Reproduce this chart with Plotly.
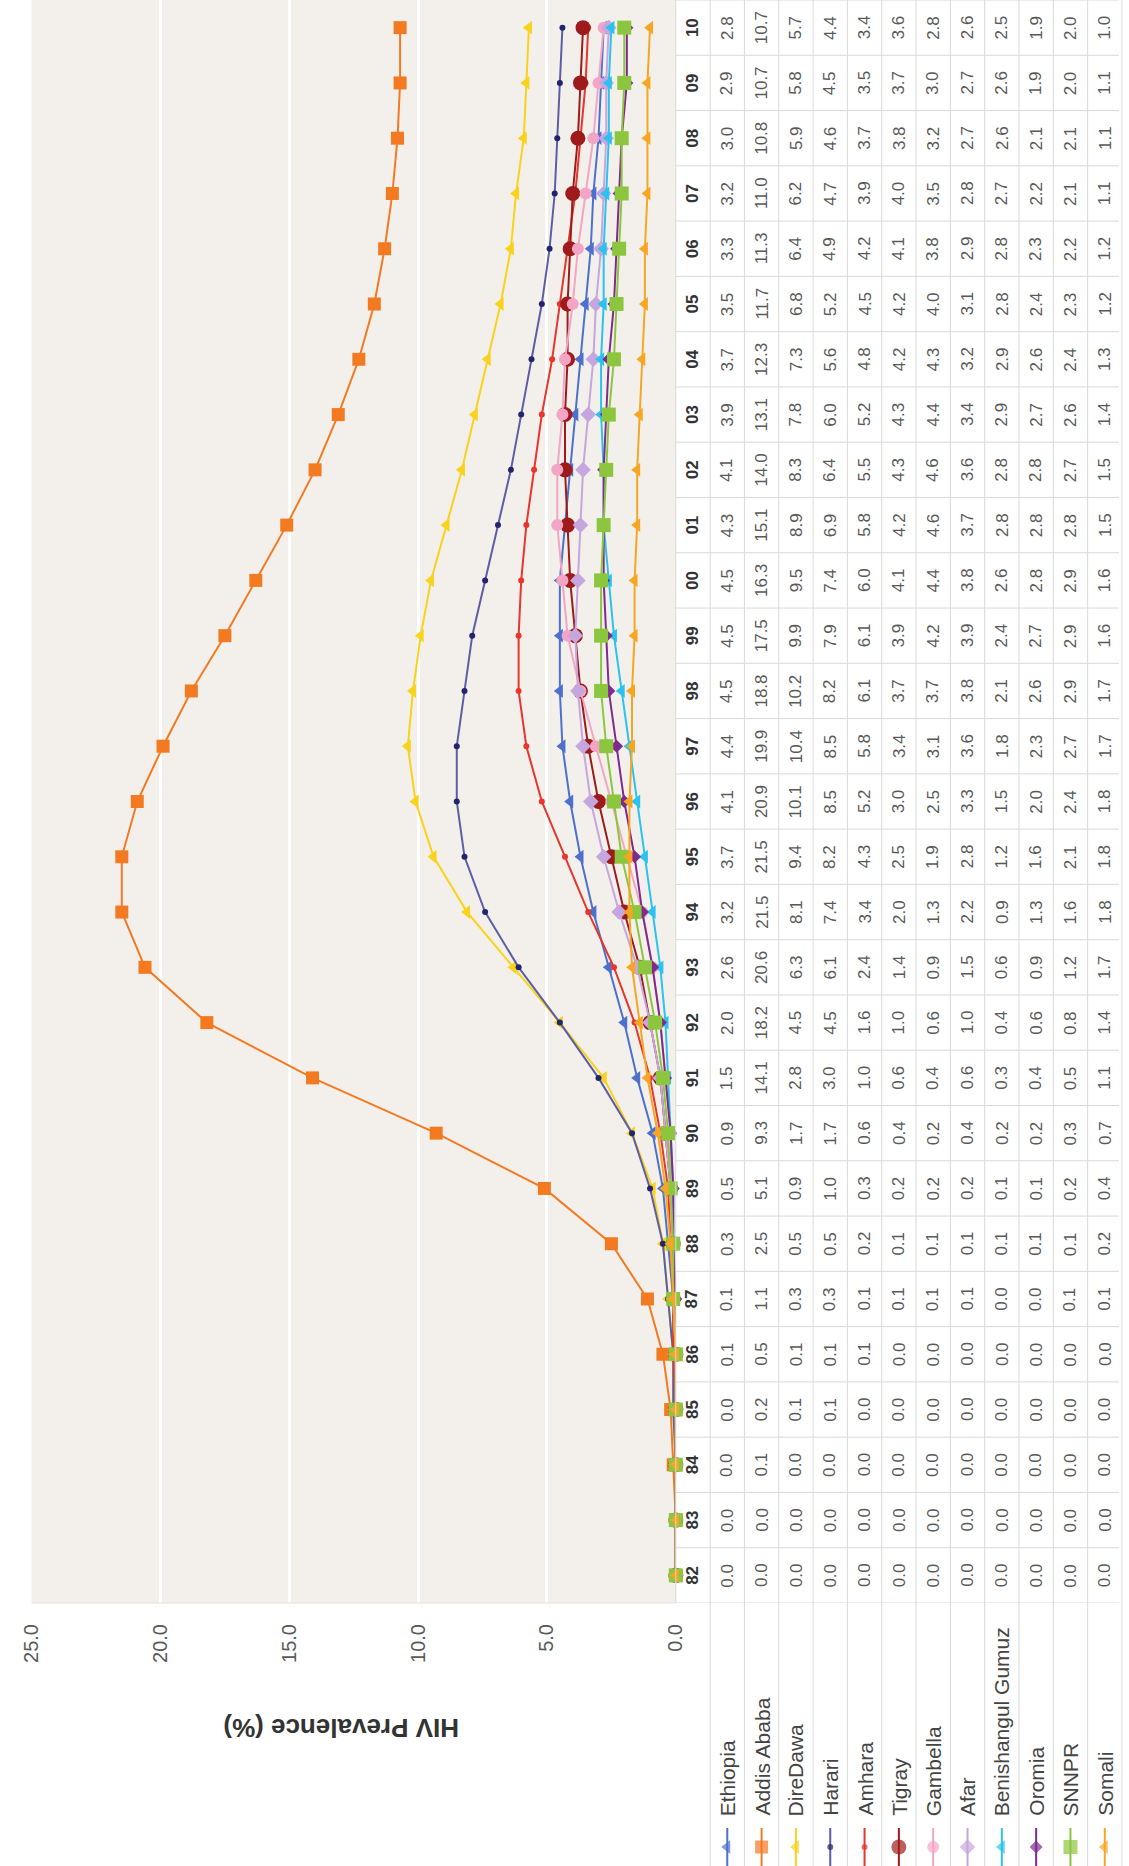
import plotly.graph_objects as go

# ---------------------------------------------------------------------------
# Data: HIV prevalence (%) by region, 1982-2010
# ---------------------------------------------------------------------------
years = ["82", "83", "84", "85", "86", "87", "88", "89", "90", "91", "92", "93",
         "94", "95", "96", "97", "98", "99", "00", "01", "02", "03", "04", "05",
         "06", "07", "08", "09", "10"]

ethiopia = [0.0, 0.0, 0.0, 0.0, 0.1, 0.1, 0.3, 0.5, 0.9, 1.5, 2.0, 2.6, 3.2, 3.7, 4.1,
            4.4, 4.5, 4.5, 4.5, 4.3, 4.1, 3.9, 3.7, 3.5, 3.3, 3.2, 3.0, 2.9, 2.8]
addis_ababa = [0.0, 0.0, 0.1, 0.2, 0.5, 1.1, 2.5, 5.1, 9.3, 14.1, 18.2, 20.6, 21.5, 21.5, 20.9,
               19.9, 18.8, 17.5, 16.3, 15.1, 14.0, 13.1, 12.3, 11.7, 11.3, 11.0, 10.8, 10.7, 10.7]
dire_dawa = [0.0, 0.0, 0.0, 0.1, 0.1, 0.3, 0.5, 0.9, 1.7, 2.8, 4.5, 6.3, 8.1, 9.4, 10.1,
             10.4, 10.2, 9.9, 9.5, 8.9, 8.3, 7.8, 7.3, 6.8, 6.4, 6.2, 5.9, 5.8, 5.7]
harari = [0.0, 0.0, 0.0, 0.1, 0.1, 0.3, 0.5, 1.0, 1.7, 3.0, 4.5, 6.1, 7.4, 8.2, 8.5,
          8.5, 8.2, 7.9, 7.4, 6.9, 6.4, 6.0, 5.6, 5.2, 4.9, 4.7, 4.6, 4.5, 4.4]
amhara = [0.0, 0.0, 0.0, 0.0, 0.1, 0.1, 0.2, 0.3, 0.6, 1.0, 1.6, 2.4, 3.4, 4.3, 5.2,
          5.8, 6.1, 6.1, 6.0, 5.8, 5.5, 5.2, 4.8, 4.5, 4.2, 3.9, 3.7, 3.5, 3.4]
tigray = [0.0, 0.0, 0.0, 0.0, 0.0, 0.1, 0.1, 0.2, 0.4, 0.6, 1.0, 1.4, 2.0, 2.5, 3.0,
          3.4, 3.7, 3.9, 4.1, 4.2, 4.3, 4.3, 4.2, 4.2, 4.1, 4.0, 3.8, 3.7, 3.6]
gambella = [0.0, 0.0, 0.0, 0.0, 0.0, 0.1, 0.1, 0.2, 0.2, 0.4, 0.6, 0.9, 1.3, 1.9, 2.5,
            3.1, 3.7, 4.2, 4.4, 4.6, 4.6, 4.4, 4.3, 4.0, 3.8, 3.5, 3.2, 3.0, 2.8]
afar = [0.0, 0.0, 0.0, 0.0, 0.0, 0.1, 0.1, 0.2, 0.4, 0.6, 1.0, 1.5, 2.2, 2.8, 3.3,
        3.6, 3.8, 3.9, 3.8, 3.7, 3.6, 3.4, 3.2, 3.1, 2.9, 2.8, 2.7, 2.7, 2.6]
benishangul_gumuz = [0.0, 0.0, 0.0, 0.0, 0.0, 0.0, 0.1, 0.1, 0.2, 0.3, 0.4, 0.6, 0.9, 1.2, 1.5,
                     1.8, 2.1, 2.4, 2.6, 2.8, 2.8, 2.9, 2.9, 2.8, 2.8, 2.7, 2.6, 2.6, 2.5]
oromia = [0.0, 0.0, 0.0, 0.0, 0.0, 0.0, 0.1, 0.1, 0.2, 0.4, 0.6, 0.9, 1.3, 1.6, 2.0,
          2.3, 2.6, 2.7, 2.8, 2.8, 2.8, 2.7, 2.6, 2.4, 2.3, 2.2, 2.1, 1.9, 1.9]
snnpr = [0.0, 0.0, 0.0, 0.0, 0.0, 0.1, 0.1, 0.2, 0.3, 0.5, 0.8, 1.2, 1.6, 2.1, 2.4,
         2.7, 2.9, 2.9, 2.9, 2.8, 2.7, 2.6, 2.4, 2.3, 2.2, 2.1, 2.1, 2.0, 2.0]
somali = [0.0, 0.0, 0.0, 0.0, 0.0, 0.1, 0.2, 0.4, 0.7, 1.1, 1.4, 1.7, 1.8, 1.8, 1.8,
          1.7, 1.7, 1.6, 1.6, 1.5, 1.5, 1.4, 1.3, 1.2, 1.2, 1.1, 1.1, 1.1, 1.0]

region_names = ["Ethiopia", "Addis Ababa", "DireDawa", "Harari", "Amhara", "Tigray",
                "Gambella", "Afar", "Benishangul Gumuz", "Oromia", "SNNPR", "Somali"]
region_values = [ethiopia, addis_ababa, dire_dawa, harari, amhara, tigray,
                 gambella, afar, benishangul_gumuz, oromia, snnpr, somali]

value_ticks = [0, 5, 10, 15, 20, 25]

# ---------------------------------------------------------------------------
# Styling (the whole chart is laid out turned a quarter turn anticlockwise)
# ---------------------------------------------------------------------------
styles = [
    dict(line="#4d70cf", marker="#4d70cf", symbol="triangle-left", size=12),
    dict(line="#f47a22", marker="#f47a22", symbol="square", size=13),
    dict(line="#f8d21c", marker="#f8d21c", symbol="triangle-left", size=12),
    dict(line="#5b5ea6", marker="#23246e", symbol="circle", size=6),
    dict(line="#e8352e", marker="#e8352e", symbol="circle", size=6),
    dict(line="#9e1b1b", marker="#9e1b1b", symbol="circle", size=15),
    dict(line="#f3a5c6", marker="#f3a5c6", symbol="circle", size=12),
    dict(line="#c6a6de", marker="#c6a6de", symbol="diamond", size=12),
    dict(line="#2bc2ef", marker="#2bc2ef", symbol="triangle-left", size=12),
    dict(line="#7e2a8e", marker="#7e2a8e", symbol="diamond", size=10),
    dict(line="#8cc63f", marker="#8cc63f", symbol="square", size=14),
    dict(line="#f6a623", marker="#f6a623", symbol="triangle-left", size=12),
]

W, H = 1129, 1866
PLOT_L, PLOT_R, PLOT_T, PLOT_B = 20, 677, 0, 1603
HEAD_X = 694            # centre of the year header column
TABLE_L = 712           # first separator of the data table
ROW_W = 35              # width of one table row (one region)
LEG_TEXT_BOTTOM = 1818
LEG_MARK_Y = 1847
LEG_LINE_TOP, LEG_LINE_BOTTOM = 1828, 1866

FONT = "Liberation Sans, Arial, sans-serif"
GRID_LINE = "#d9d9d9"


def px(x):
    return x / W


def py(y):
    return 1 - y / H


def row_centre(k):
    return TABLE_L + ROW_W * k + ROW_W / 2


fig = go.Figure()

# Data series: value on the horizontal axis, year on the vertical (category) axis
for name, vals, st in zip(region_names, region_values, styles):
    fig.add_trace(go.Scatter(
        x=vals, y=years, name=name, mode="lines+markers",
        line=dict(color=st["line"], width=2),
        marker=dict(color=st["marker"], symbol=st["symbol"], size=st["size"],
                    line=dict(width=0)),
        cliponaxis=False, showlegend=False, xaxis="x", yaxis="y",
    ))

# Legend keys under the table (overlay axes in pixel units)
for k, (name, st) in enumerate(zip(region_names, styles)):
    cx = row_centre(k)
    fig.add_trace(go.Scatter(
        x=[cx, cx, cx], y=[LEG_LINE_TOP, LEG_MARK_Y, LEG_LINE_BOTTOM],
        mode="lines+markers",
        line=dict(color=st["line"], width=2),
        marker=dict(color=st["marker"], symbol=st["symbol"],
                    size=[0, st["size"], 0], line=dict(width=0)),
        showlegend=False, hoverinfo="skip", xaxis="x2", yaxis="y2",
    ))

shapes = []
# plot background
shapes.append(dict(type="rect", xref="paper", yref="paper",
                   x0=px(PLOT_L), x1=px(PLOT_R), y0=py(PLOT_B), y1=py(PLOT_T),
                   fillcolor="#f3f0eb", line=dict(width=0), layer="below"))
# plot right / bottom edges
shapes.append(dict(type="line", xref="paper", yref="paper",
                   x0=px(PLOT_R), x1=px(PLOT_R), y0=py(PLOT_B), y1=py(PLOT_T),
                   line=dict(color=GRID_LINE, width=1)))
shapes.append(dict(type="line", xref="paper", yref="paper",
                   x0=px(PLOT_L), x1=px(PLOT_R), y0=py(PLOT_B), y1=py(PLOT_B),
                   line=dict(color="#e4e1dc", width=1)))
# table: boundaries between year cells (category index +/- 0.5)
for i in range(len(years) + 1):
    shapes.append(dict(type="line", xref="paper", yref="y",
                       x0=px(PLOT_R), x1=1, y0=i - 0.5, y1=i - 0.5,
                       line=dict(color=GRID_LINE, width=1)))
# table: boundaries between region rows (run through the legend area too)
for k in range(len(region_names) + 1):
    xx = TABLE_L + ROW_W * k
    shapes.append(dict(type="line", xref="paper", yref="paper",
                       x0=px(xx), x1=px(xx), y0=0, y1=1,
                       line=dict(color=GRID_LINE, width=1)))

annotations = []
# year header column (placed by category index on the year axis)
for i, yr in enumerate(years):
    annotations.append(dict(x=px(HEAD_X), xref="paper", y=i, yref="y",
                            text=f"<b>{yr}</b>", textangle=-90, showarrow=False,
                            font=dict(family=FONT, size=17, color="#333333"),
                            xanchor="center", yanchor="middle"))
# table values
for k, vals in enumerate(region_values):
    for i, v in enumerate(vals):
        annotations.append(dict(x=px(row_centre(k)), xref="paper", y=i, yref="y",
                                text=f"{v:.1f}", textangle=-90, showarrow=False,
                                font=dict(family=FONT, size=17, color="#595959"),
                                xanchor="center", yanchor="middle"))
# legend names
for k, name in enumerate(region_names):
    annotations.append(dict(x=px(row_centre(k)), xref="paper",
                            y=py(LEG_TEXT_BOTTOM), yref="paper",
                            text=name, textangle=-90, showarrow=False,
                            font=dict(family=FONT, size=21, color="#444444"),
                            xanchor="center", yanchor="bottom"))
# value axis title
annotations.append(dict(x=px(335), xref="paper", y=py(1728), yref="paper",
                        text="<b>HIV Prevalence (%)</b>", textangle=180, showarrow=False,
                        font=dict(family=FONT, size=26, color="#333333"),
                        xanchor="center", yanchor="middle"))

fig.update_layout(
    width=W, height=H,
    margin=dict(l=0, r=0, t=0, b=0),
    paper_bgcolor="white",
    plot_bgcolor="rgba(0,0,0,0)",
    showlegend=False,
    xaxis=dict(
        domain=[px(PLOT_L), px(PLOT_R)], range=[25, 0],
        tickvals=value_ticks, ticktext=[f"{t:.1f}" for t in value_ticks],
        tickangle=-90, tickfont=dict(family=FONT, size=20, color="#595959"),
        ticks="", ticklabelstandoff=16,
        showgrid=True, gridcolor="white", gridwidth=3,
        zeroline=False, showline=False, fixedrange=True, anchor="y",
    ),
    yaxis=dict(
        type="category", categoryorder="array", categoryarray=years,
        domain=[py(PLOT_B), py(PLOT_T)], range=[-0.5, len(years) - 0.5],
        showticklabels=False, showgrid=False, zeroline=False, showline=False,
        ticks="", fixedrange=True, anchor="x",
    ),
    xaxis2=dict(domain=[0, 1], range=[0, W], visible=False, anchor="y2", fixedrange=True),
    yaxis2=dict(domain=[0, 1], range=[H, 0], visible=False, anchor="x2", fixedrange=True),
    shapes=shapes,
    annotations=annotations,
)

fig.write_html("out.html")
